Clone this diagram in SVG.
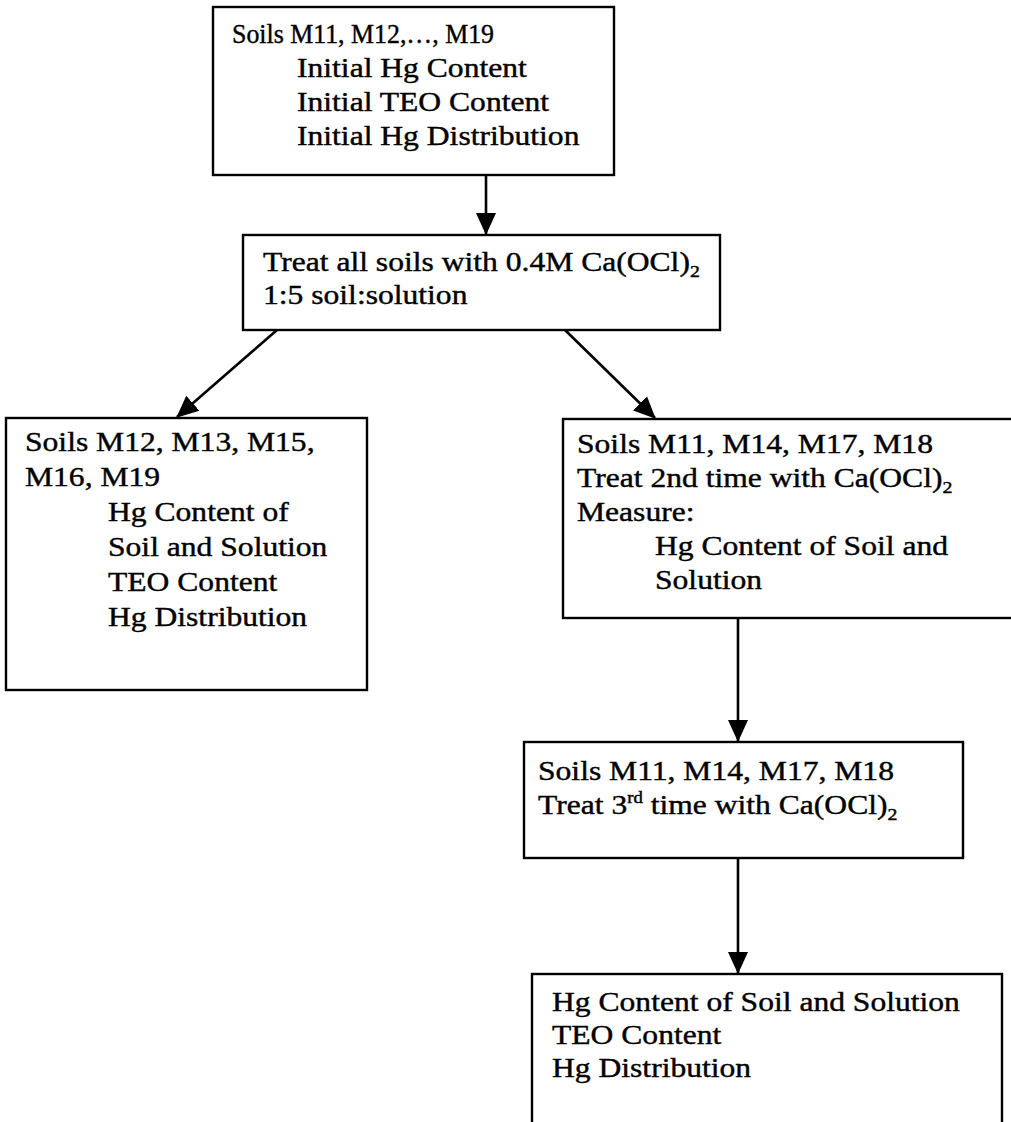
<svg xmlns="http://www.w3.org/2000/svg" width="1011" height="1122" viewBox="0 0 1011 1122">
<style>
.box{fill:#fff;stroke:#000;stroke-width:2.4}
.t{font-family:"Liberation Serif","Times New Roman",serif;font-size:27px;fill:#000;stroke:#000;stroke-width:0.4}
.c{stroke:#000;stroke-width:2.6;fill:none}
</style>
<defs>
<marker id="ah" markerUnits="userSpaceOnUse" markerWidth="22" markerHeight="22" viewBox="0 0 22 22" refX="21" refY="11" orient="auto">
<path d="M0,1 L22,11 L0,21 Z" fill="#000"/>
</marker>
</defs>
<rect width="1011" height="1122" fill="#fff"/>
<g id="connectors">
<line class="c" x1="486" y1="175" x2="486" y2="234" marker-end="url(#ah)"/>
<line class="c" x1="277" y1="330" x2="177" y2="417" marker-end="url(#ah)"/>
<line class="c" x1="565" y1="330" x2="655" y2="418" marker-end="url(#ah)"/>
<line class="c" x1="738" y1="618" x2="738" y2="741" marker-end="url(#ah)"/>
<line class="c" x1="738" y1="858" x2="738" y2="973" marker-end="url(#ah)"/>
</g>
<g id="n1">
<rect class="box" x="213" y="7" width="401" height="168"/>
<text class="t" x="232" y="43" textLength="262" lengthAdjust="spacingAndGlyphs">Soils M11, M12,…, M19</text>
<text class="t" transform="translate(297,77) scale(1.17,1)">Initial Hg Content</text>
<text class="t" transform="translate(297,111) scale(1.17,1)">Initial TEO Content</text>
<text class="t" transform="translate(297,145) scale(1.17,1)">Initial Hg Distribution</text>
</g>
<g id="n2">
<rect class="box" x="243" y="235" width="477" height="95"/>
<text class="t" transform="translate(263,271) scale(1.17,1)">Treat all soils with 0.4M Ca(OCl)<tspan font-size="17" dy="6">2</tspan></text>
<text class="t" transform="translate(263,304) scale(1.17,1)">1:5 soil:solution</text>
</g>
<g id="n3">
<rect class="box" x="6" y="418" width="361" height="272"/>
<text class="t" transform="translate(25,451) scale(1.17,1)">Soils M12, M13, M15,</text>
<text class="t" transform="translate(25,486) scale(1.17,1)">M16, M19</text>
<text class="t" transform="translate(108,521) scale(1.17,1)">Hg Content of</text>
<text class="t" transform="translate(108,556) scale(1.17,1)">Soil and Solution</text>
<text class="t" transform="translate(108,591) scale(1.17,1)">TEO Content</text>
<text class="t" transform="translate(108,626) scale(1.17,1)">Hg Distribution</text>
</g>
<g id="n4">
<rect class="box" x="563" y="419" width="460" height="199"/>
<text class="t" transform="translate(577,453) scale(1.17,1)">Soils M11, M14, M17, M18</text>
<text class="t" transform="translate(577,487) scale(1.17,1)">Treat 2nd time with Ca(OCl)<tspan font-size="17" dy="6">2</tspan></text>
<text class="t" transform="translate(577,521) scale(1.17,1)">Measure:</text>
<text class="t" transform="translate(655,555) scale(1.17,1)">Hg Content of Soil and</text>
<text class="t" transform="translate(655,589) scale(1.17,1)">Solution</text>
</g>
<g id="n5">
<rect class="box" x="524" y="742" width="439" height="116"/>
<text class="t" transform="translate(538,780) scale(1.17,1)">Soils M11, M14, M17, M18</text>
<text class="t" transform="translate(538,814) scale(1.17,1)">Treat 3<tspan font-size="16" dy="-11">rd</tspan><tspan dy="11"> time with Ca(OCl)</tspan><tspan font-size="17" dy="6">2</tspan></text>
</g>
<g id="n6">
<rect class="box" x="532" y="974" width="470" height="170"/>
<text class="t" transform="translate(552,1011) scale(1.17,1)">Hg Content of Soil and Solution</text>
<text class="t" transform="translate(552,1044) scale(1.17,1)">TEO Content</text>
<text class="t" transform="translate(552,1077) scale(1.17,1)">Hg Distribution</text>
</g>
</svg>
